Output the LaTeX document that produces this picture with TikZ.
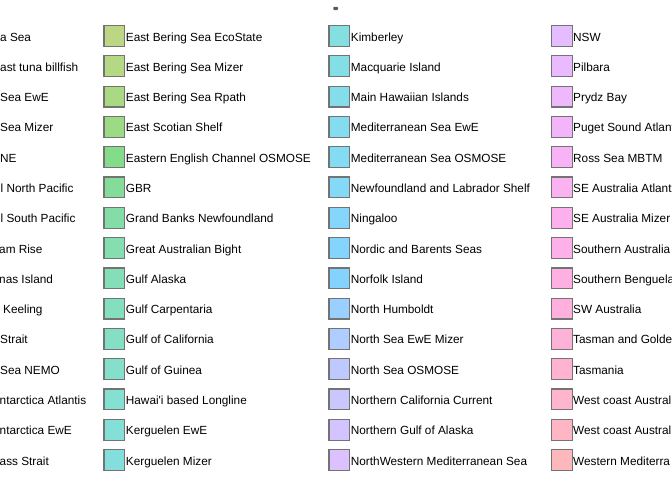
\documentclass[tikz,border=0pt]{standalone}
\usepackage{fontspec}
\setmainfont{Liberation Sans}
\usetikzlibrary{positioning}

% hue of key number #1 (ggplot style hcl, c=100, l=65), result in \kr \kg \kb
\newcommand\keyhue[1]{%
  \pgfmathsetmacro\hh{15+6*#1}%
  \pgfmathsetmacro\up{0.118343*cos(\hh)+0.19784}%
  \pgfmathsetmacro\vp{0.118343*sin(\hh)+0.46834}%
  \pgfmathsetmacro\cX{0.3404717*2.25*\up/\vp}%
  \pgfmathsetmacro\cZ{0.3404717*(3-0.75*\up-5*\vp)/\vp}%
  \pgfmathsetmacro\lr{3.2404542*\cX-0.523355-0.4985314*\cZ}%
  \pgfmathsetmacro\lg{-0.969266*\cX+0.638725+0.041556*\cZ}%
  \pgfmathsetmacro\lb{0.0556434*\cX-0.069465+1.0572252*\cZ}%
  \pgfmathsetmacro\kr{min(1,max(0,1.055*max(\lr,0.0031308)^0.416667-0.055))}%
  \pgfmathsetmacro\kg{min(1,max(0,1.055*max(\lg,0.0031308)^0.416667-0.055))}%
  \pgfmathsetmacro\kb{min(1,max(0,1.055*max(\lb,0.0031308)^0.416667-0.055))}%
}

\tikzset{
  keybox/.style={draw=black!55, line width=1.2pt, fill opacity=0.5,
    minimum size=20.8pt, inner sep=0pt},
  keytext/.style={inner sep=0pt, text height=10pt, text depth=0pt,
    font=\fontsize{11.8}{14}\selectfont, anchor=west},
}

\begin{document}
\begin{tikzpicture}[x=1pt, y=-1pt]
\useasboundingbox (0,0) rectangle (672,480);
\fill[black!65, rounded corners=0.8pt] (333.3,6.8) rectangle (338,10);

% first column: only the ends of its labels are shown
\foreach \dx/\lab [count=\r from 0] in {0/a Sea, 0/ast tuna billfish, 0/Sea EwE,
    0/Sea Mizer, 0/NE, 0.5/l North Pacific, 0.5/l South Pacific, -1/am Rise,
    -1/nas Island, 3/Keeling, 0/Strait, 0/Sea NEMO, -0.5/ntarctica Atlantis,
    -0.5/ntarctica EwE, -0.5/ass Strait}
  \node[keytext] (a\r) at (\dx, 36+30.29*\r) {\lab};

% second column
\foreach \lab [count=\r from 0] in {East Bering Sea EcoState, East Bering Sea Mizer,
    East Bering Sea Rpath, East Scotian Shelf, Eastern English Channel OSMOSE, GBR,
    Grand Banks Newfoundland, Great Australian Bight, Gulf Alaska, Gulf Carpentaria,
    Gulf of California, Gulf of Guinea, Hawai\textquotesingle i based Longline,
    Kerguelen EwE, Kerguelen Mizer}
{
  \pgfmathtruncatemacro\i{15+\r}
  \keyhue{\i}
  \definecolor{keyfill}{rgb}{\kr,\kg,\kb}
  \node[keybox, fill=keyfill] (k\i) at (114.4, 36+30.29*\r) {};
  \node[keytext, right=0.3pt of k\i] (t\i) {\lab};
}

% third column
\foreach \lab [count=\r from 0] in {Kimberley, Macquarie Island, Main Hawaiian Islands,
    Mediterranean Sea EwE, Mediterranean Sea OSMOSE, Newfoundland and Labrador Shelf,
    Ningaloo, Nordic and Barents Seas, Norfolk Island, North Humboldt,
    North Sea EwE Mizer, North Sea OSMOSE, Northern California Current,
    Northern Gulf of Alaska, NorthWestern Mediterranean Sea}
{
  \pgfmathtruncatemacro\i{30+\r}
  \keyhue{\i}
  \definecolor{keyfill}{rgb}{\kr,\kg,\kb}
  \node[keybox, fill=keyfill] (k\i) at (339.4, 36+30.29*\r) {};
  \node[keytext, right=0.3pt of k\i] (t\i) {\lab};
}

% fourth column, cut at the right edge
\foreach \lab [count=\r from 0] in {NSW, Pilbara, Prydz Bay, Puget Sound Atlant,
    Ross Sea MBTM, SE Australia Atlant, SE Australia Mizer, Southern Australia,
    Southern Benguela, SW Australia, Tasman and Golde, Tasmania,
    West coast Austral, West coast Austral, Western Mediterra}
{
  \pgfmathtruncatemacro\i{45+\r}
  \keyhue{\i}
  \definecolor{keyfill}{rgb}{\kr,\kg,\kb}
  \node[keybox, fill=keyfill] (k\i) at (561.7, 36+30.29*\r) {};
  \node[keytext, right=0.3pt of k\i] (t\i) {\lab};
}
\end{tikzpicture}
\end{document}
